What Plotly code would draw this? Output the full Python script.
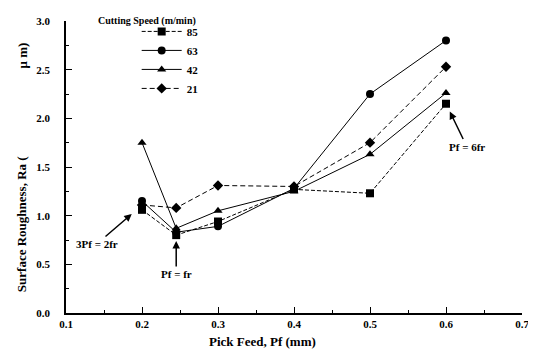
import plotly.graph_objects as go

pick_feed = [0.2, 0.245, 0.3, 0.4, 0.5, 0.6]
speed_labels = ["85", "63", "42", "21"]
ra_85 = [1.06, 0.80, 0.94, 1.27, 1.23, 2.15]
ra_63 = [1.15, 0.83, 0.89, 1.28, 2.25, 2.80]
ra_42 = [1.75, 0.87, 1.05, 1.25, 1.63, 2.26]
ra_21 = [1.11, 1.08, 1.31, 1.30, 1.75, 2.53]

series = [ra_85, ra_63, ra_42, ra_21]
symbols = ["square", "circle", "triangle-up", "diamond"]
dashes = ["4px,2px", "solid", "solid", "5px,3px"]

FONT = "Liberation Serif"

fig = go.Figure()
for lab, vals, sym, dsh in zip(speed_labels, series, symbols, dashes):
    fig.add_trace(go.Scatter(
        x=pick_feed, y=vals, name=lab, mode="lines+markers",
        line=dict(color="black", width=1, dash=dsh),
        marker=dict(symbol=sym, size=8, color="black"),
    ))

axis_font = dict(family=FONT, size=11, color="black", weight="bold")
fig.update_xaxes(range=[0.1, 0.7], dtick=0.1, tick0=0.1, tickformat=".1f",
                 showline=True, linecolor="black", linewidth=1.5,
                 ticks="inside", ticklen=6, tickwidth=1.2, tickcolor="black",
                 minor=dict(dtick=0.05, ticks="inside", ticklen=3, tickcolor="black"),
                 showgrid=False, zeroline=False, tickfont=axis_font)
fig.update_yaxes(range=[0, 3.0], dtick=0.5, tickformat=".1f",
                 showline=True, linecolor="black", linewidth=1.5,
                 ticks="inside", ticklen=6, tickwidth=1.2, tickcolor="black",
                 minor=dict(dtick=0.25, ticks="inside", ticklen=3, tickcolor="black"),
                 showgrid=False, zeroline=False, tickfont=axis_font,
                 ticklabelstandoff=12)

lab_font = dict(family=FONT, size=13, color="black", weight="bold")
ann_font = dict(family=FONT, size=11, color="black", weight="bold")

annotations = [
    dict(text="Pick Feed, Pf (mm)", xref="paper", yref="paper", x=0.43, y=-0.097,
         xanchor="center", yanchor="middle", showarrow=False, font=lab_font),
    dict(text="Surface Roughness, Ra (", xref="paper", yref="paper", x=-0.096, y=0.305,
         xanchor="center", yanchor="middle", textangle=-90, showarrow=False, font=lab_font),
    dict(text="\u03bc m)", xref="paper", yref="paper", x=-0.096, y=0.883,
         xanchor="center", yanchor="middle", textangle=-90, showarrow=False, font=lab_font),
    dict(text="Cutting Speed (m/min)", xref="paper", yref="paper", x=0.177, y=1.0,
         xanchor="center", yanchor="middle", showarrow=False,
         font=dict(family=FONT, size=10, color="black", weight="bold")),
    dict(text="3Pf = 2fr", x=0.1865, y=1.017, ax=-35, ay=30, showarrow=True,
         arrowhead=2, arrowsize=1, arrowwidth=1.5, arrowcolor="black", font=ann_font),
    dict(text="Pf = fr", x=0.245, y=0.74, ax=0, ay=33, showarrow=True,
         arrowhead=2, arrowsize=1, arrowwidth=1.5, arrowcolor="black", font=ann_font),
    dict(text="Pf = 6fr", x=0.605, y=2.07, ax=17, ay=35, showarrow=True,
         arrowhead=2, arrowsize=1, arrowwidth=1.5, arrowcolor="black", font=ann_font),
]

# the page body has an 8px default margin; size the figure so the plot area
# lands where the reference has it inside the 536x359 window
fig.update_layout(
    width=528, height=351,
    margin=dict(l=58, r=12, t=7, b=46),
    paper_bgcolor="white", plot_bgcolor="white",
    showlegend=True,
    legend=dict(x=0.155, y=1.014, xanchor="left", yanchor="top",
                font=dict(family=FONT, size=11, color="black", weight="bold"),
                bgcolor="rgba(0,0,0,0)", tracegroupgap=0, itemwidth=40),
    annotations=annotations,
    font=dict(family=FONT, color="black"),
)

fig.write_html("out.html")
